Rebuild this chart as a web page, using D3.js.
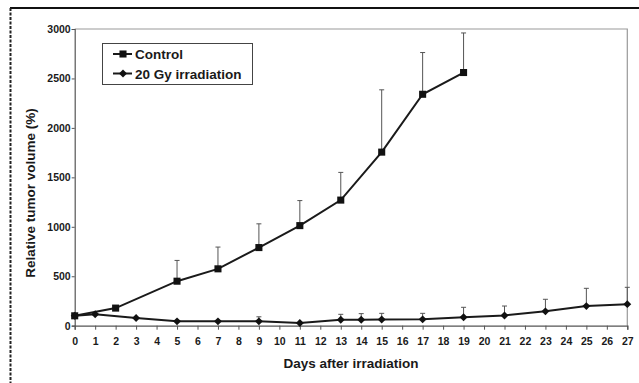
<html>
<head>
<meta charset="utf-8">
<script src="https://cdn.jsdelivr.net/npm/d3@7"></script>
<style>
  body { margin: 0; background: #fff; }
  text { font-family: "Liberation Sans", Arial, sans-serif; font-weight: bold; fill: #1a1a1a; }
</style>
</head>
<body>
<div id="viz"></div>
<script>
// data
var controlDays  = [0, 2, 5, 7, 9, 11, 13, 15, 17, 19];
var controlVals  = [100, 178, 450, 575, 790, 1012, 1270, 1755, 2340, 2560];
var controlErr   = [null, null, 660, 795, 1030, 1265, 1550, 2385, 2762, 2960];

var irrDays = [0, 1, 3, 5, 7, 9, 11, 13, 14, 15, 17, 19, 21, 23, 25, 27];
var irrVals = [100, 115, 78, 44, 44, 44, 27, 60, 60, 63, 64, 86, 104, 145, 198, 218];
var irrErr  = [null, null, null, null, null, 90, null, 115, 122, 125, 125, 186, 199, 267, 378, 388];

var xTicks = [0,1,2,3,4,5,6,7,8,9,10,11,12,13,14,15,16,17,18,19,20,21,22,23,24,25,26,27];
var yTicks = [0, 500, 1000, 1500, 2000, 2500, 3000];
var seriesNames = ["Control", "20 Gy irradiation"];

var width = 639, height = 383;
var svg = d3.select("#viz").append("svg")
    .attr("width", width)
    .attr("height", height);

var x = d3.scaleLinear().domain([0, 27]).range([74.7, 627.3]);
var y = d3.scaleLinear().domain([0, 3000]).range([325.7, 29]);

// outer frame of the figure (top + dashed left)
svg.append("line").attr("x1", 10).attr("x2", 639).attr("y1", 8).attr("y2", 8)
    .attr("stroke", "#111").attr("stroke-width", 2);
svg.append("line").attr("x1", 10.5).attr("x2", 10.5).attr("y1", 8).attr("y2", 383)
    .attr("stroke", "#222").attr("stroke-width", 2).attr("stroke-dasharray", "3,1.5");

// plot box: top and right in gray
svg.append("path")
    .attr("d", "M" + x(0) + "," + y(3000) + "H" + x(27) + "V" + y(0))
    .attr("fill", "none").attr("stroke", "#999").attr("stroke-width", 1.2);

var yAxis = svg.append("g")
    .attr("transform", "translate(" + x(0) + ",0)")
    .call(d3.axisLeft(y).tickValues(yTicks).tickSize(3).tickPadding(1).tickFormat(d3.format("d")));
var xAxis = svg.append("g")
    .attr("transform", "translate(0," + y(0) + ")")
    .call(d3.axisBottom(x).tickValues(xTicks).tickSize(4).tickPadding(8).tickFormat(d3.format("d")));

[yAxis, xAxis].forEach(function (g) {
  g.select(".domain").attr("stroke", "#555").attr("stroke-width", 1.2);
  g.selectAll(".tick line").attr("stroke", "#555");
  g.selectAll("text").style("font-size", "10.5px").attr("fill", "#1a1a1a");
});

// axis titles
svg.append("text")
    .attr("x", 351).attr("y", 368)
    .attr("text-anchor", "middle")
    .style("font-size", "13.5px")
    .text("Days after irradiation");
svg.append("text")
    .attr("transform", "translate(35,193) rotate(-90)")
    .attr("text-anchor", "middle")
    .style("font-size", "13.5px")
    .text("Relative tumor volume (%)");

function errorBars(days, vals, errs) {
  var g = svg.append("g").attr("stroke", "#555").attr("stroke-width", 1);
  days.forEach(function (d, i) {
    if (errs[i] == null) return;
    g.append("line").attr("x1", x(d)).attr("x2", x(d)).attr("y1", y(vals[i])).attr("y2", y(errs[i]));
    g.append("line").attr("x1", x(d) - 2.5).attr("x2", x(d) + 2.5).attr("y1", y(errs[i])).attr("y2", y(errs[i]));
  });
}
errorBars(controlDays, controlVals, controlErr);
errorBars(irrDays, irrVals, irrErr);

var line = d3.line().x(function (d) { return x(d[0]); }).y(function (d) { return y(d[1]); });

var irrPts = irrDays.map(function (d, i) { return [d, irrVals[i]]; });
var ctlPts = controlDays.map(function (d, i) { return [d, controlVals[i]]; });

svg.append("path").datum(irrPts).attr("d", line)
    .attr("fill", "none").attr("stroke", "#1a1a1a").attr("stroke-width", 2);
svg.append("path").datum(ctlPts).attr("d", line)
    .attr("fill", "none").attr("stroke", "#1a1a1a").attr("stroke-width", 2);

var diamond = d3.symbol().type(d3.symbolDiamond2).size(40);
var square = d3.symbol().type(d3.symbolSquare).size(50);

svg.selectAll(".irr").data(irrPts).enter().append("path")
    .attr("transform", function (d) { return "translate(" + x(d[0]) + "," + y(d[1]) + ")"; })
    .attr("d", diamond).attr("fill", "#111");
svg.selectAll(".ctl").data(ctlPts).enter().append("path")
    .attr("transform", function (d) { return "translate(" + x(d[0]) + "," + y(d[1]) + ")"; })
    .attr("d", square).attr("fill", "#111");

// legend
var lg = svg.append("g");
lg.append("rect").attr("x", 102.5).attr("y", 43.5).attr("width", 150).attr("height", 41)
    .attr("fill", "#fff").attr("stroke", "#444").attr("stroke-width", 1);
var legendMarks = [square, diamond];
seriesNames.forEach(function (name, i) {
  var cy = 54 + i * 19.5;
  lg.append("line").attr("x1", 113).attr("x2", 132).attr("y1", cy).attr("y2", cy)
      .attr("stroke", "#1a1a1a").attr("stroke-width", 2);
  lg.append("path").attr("transform", "translate(123," + cy + ")")
      .attr("d", legendMarks[i]).attr("fill", "#111");
  lg.append("text").attr("x", 135).attr("y", cy + 5)
      .style("font-size", "13.5px").text(name);
});
</script>
</body>
</html>
